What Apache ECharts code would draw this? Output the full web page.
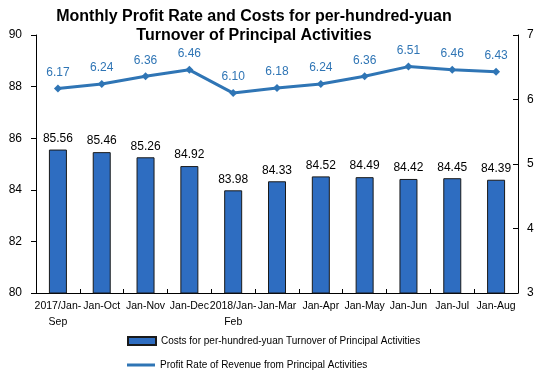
<!DOCTYPE html>
<html><head><meta charset="utf-8">
<script src="https://cdn.jsdelivr.net/npm/echarts@6/dist/echarts.min.js"></script>
<style>html,body{margin:0;padding:0;background:#fff}#c{width:543px;height:378px}</style>
</head><body><div id="c"></div>
<script>
var categories = ['2017/Jan-\nSep','Jan-Oct','Jan-Nov','Jan-Dec','2018/Jan-\nFeb','Jan-Mar','Jan-Apr','Jan-May','Jan-Jun','Jan-Jul','Jan-Aug'];
var costs = [85.56,85.46,85.26,84.92,83.98,84.33,84.52,84.49,84.42,84.45,84.39];
var profitRate = [6.17,6.24,6.36,6.46,6.10,6.18,6.24,6.36,6.51,6.46,6.43];
var costName = 'Costs for per-hundred-yuan Turnover of Principal Activities';
var rateName = 'Profit Rate of Revenue from Principal Activities';

var chart = echarts.init(document.getElementById('c'));
var font = 'Liberation Sans, Arial, sans-serif';
var legendBase = {orient: 'horizontal', left: 127, padding: 0, itemWidth: 28, itemHeight: 8,
  textStyle: {fontFamily: font, fontSize: 10, color: '#000'}};
chart.setOption({
  animation: false,
  title: {
    text: 'Monthly Profit Rate and Costs for per-hundred-yuan\nTurnover of Principal Activities',
    left: 249, textAlign: 'center', top: 2,
    textStyle: {fontFamily: font, fontSize: 16, fontWeight: 'bold', color: '#000', lineHeight: 19}
  },
  legend: [
    Object.assign({}, legendBase, {top: 336, data: [{name: costName, icon: 'rect'}]}),
    Object.assign({}, legendBase, {top: 360, data: [{name: rateName, icon: 'path://M0,0 L28,0 L28,3 L0,3 Z'}]})
  ],
  grid: {left: 36, right: 25, top: 35, bottom: 85},
  xAxis: {
    type: 'category', data: categories,
    axisLine: {lineStyle: {color: '#000', width: 1}},
    axisTick: {show: true, alignWithLabel: false, length: 4, inside: true, lineStyle: {color: '#000'}},
    axisLabel: {fontFamily: font, fontSize: 10.5, color: '#000', interval: 0, margin: 5, lineHeight: 16}
  },
  yAxis: [
    {type: 'value', min: 80, max: 90, interval: 2, splitLine: {show: false},
     axisLine: {show: true, lineStyle: {color: '#000'}},
     axisTick: {show: true, length: 5, lineStyle: {color: '#000'}},
     axisLabel: {fontFamily: font, fontSize: 12, color: '#000', margin: 14}},
    {type: 'value', min: 3, max: 7, interval: 1, splitLine: {show: false},
     axisLine: {show: true, lineStyle: {color: '#000'}},
     axisTick: {show: true, inside: true, length: 5, lineStyle: {color: '#000'}},
     axisLabel: {fontFamily: font, fontSize: 12, color: '#000', margin: 9}}
  ],
  series: [
    {name: costName, type: 'bar', data: costs, yAxisIndex: 0, barWidth: 18,
     itemStyle: {color: '#2E6DC1', borderColor: '#1a1a1a', borderWidth: 1},
     label: {show: true, position: 'top', distance: 5, fontFamily: font, fontSize: 12, color: '#000',
       formatter: function (p) { return p.value.toFixed(2); }}},
    {name: rateName, type: 'line', data: profitRate, yAxisIndex: 1,
     symbol: 'diamond', symbolSize: 8,
     lineStyle: {color: '#2F75B5', width: 3}, itemStyle: {color: '#2F75B5'},
     label: {show: true, position: 'top', distance: 6, fontFamily: font, fontSize: 12, color: '#2F75B5',
       formatter: function (p) { return p.value.toFixed(2); }}}
  ]
});
</script></body></html>
